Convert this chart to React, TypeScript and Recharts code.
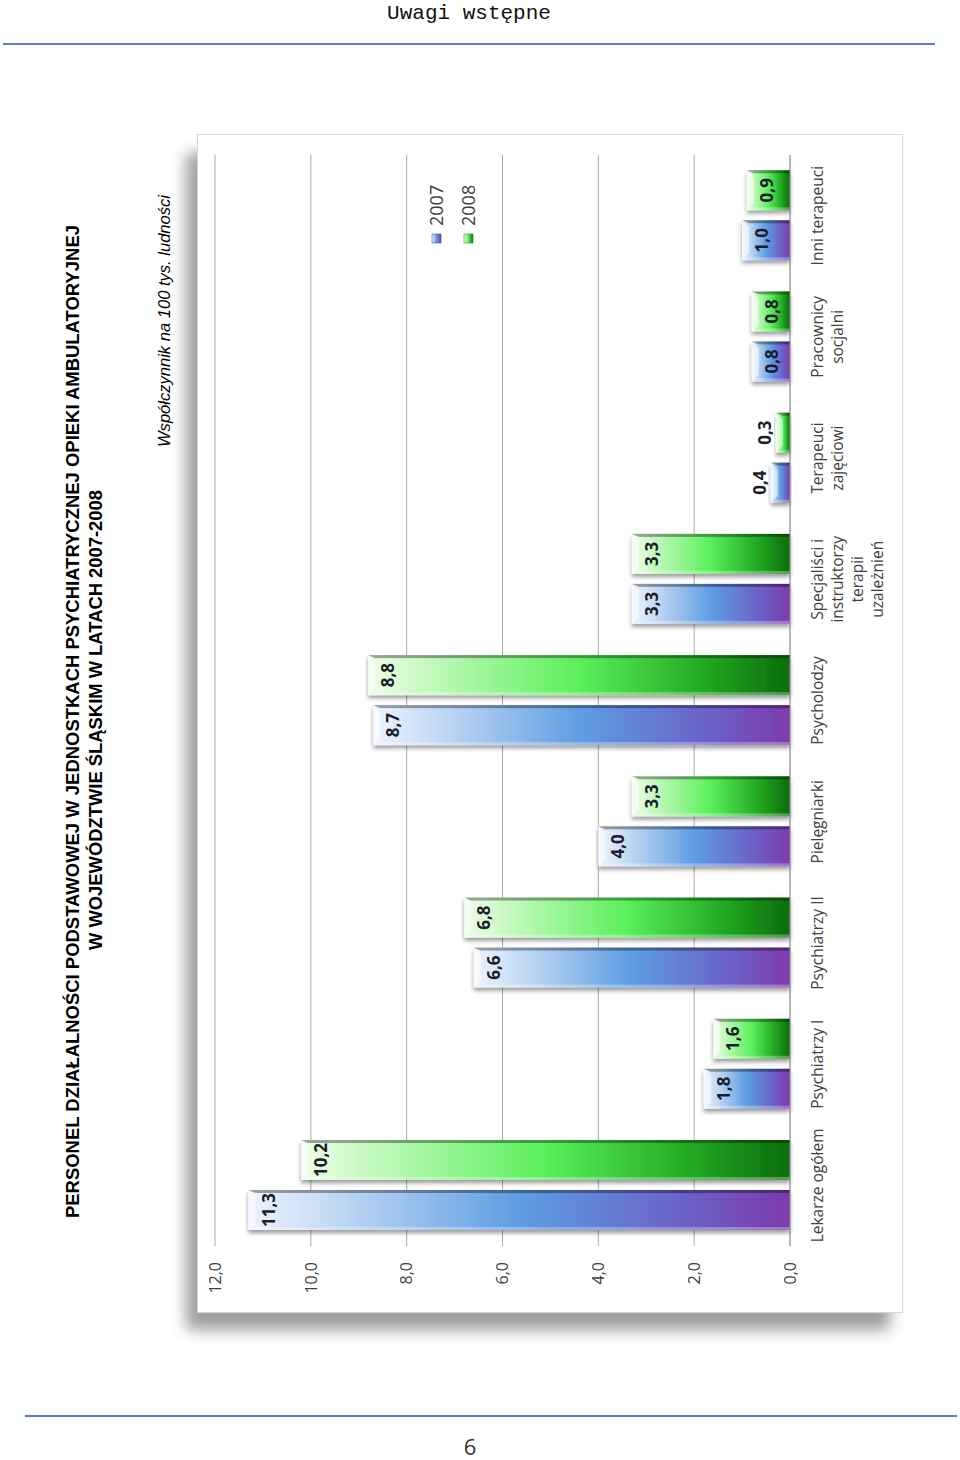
import React from 'react';
import { BarChart, Bar, XAxis, YAxis, CartesianGrid, LabelList } from 'recharts';

// categories with the line breaks used on the axis
const categoryLines: string[][] = [
  ['Lekarze ogółem'],
  ['Psychiatrzy I'],
  ['Psychiatrzy II'],
  ['Pielęgniarki'],
  ['Psycholodzy'],
  ['Specjaliści i', 'instruktorzy', 'terapii', 'uzależnień'],
  ['Terapeuci', 'zajęciowi'],
  ['Pracownicy', 'socjalni'],
  ['Inni terapeuci'],
];

const values2007 = [11.3, 1.8, 6.6, 4.0, 8.7, 3.3, 0.4, 0.8, 1.0];
const values2008 = [10.2, 1.6, 6.8, 3.3, 8.8, 3.3, 0.3, 0.8, 0.9];
const yTicks = [0, 2, 4, 6, 8, 10, 12];
const seriesNames = ['2007', '2008'];

const data = categoryLines.map((lines, i) => ({
  name: lines.join(' '),
  y2007: values2007[i],
  y2008: values2008[i],
}));

const fmt = (v: number) => v.toFixed(1).replace('.', ',');

const FONT = '"Open Sans", "Noto Sans", sans-serif';

function BevelBar(props: any) {
  const { x, y, width: w, height: h, grad } = props;
  if (!h || h <= 0) return null;
  const b = Math.min(7, h / 2);
  const s = 3;
  return (
    <g filter="url(#barShadow)">
      <rect x={x} y={y} width={w} height={h} fill={`url(#${grad})`} />
      <polygon
        points={`${x},${y} ${x + w},${y} ${x + w - b},${y + b} ${x + b},${y + b}`}
        fill="#ffffff"
        fillOpacity={0.55}
      />
      <polygon
        points={`${x},${y} ${x + s},${y + b} ${x + s},${y + h} ${x},${y + h}`}
        fill="#ffffff"
        fillOpacity={0.3}
      />
      <polygon
        points={`${x + w},${y} ${x + w - s},${y + b} ${x + w - s},${y + h} ${x + w},${y + h}`}
        fill="#000000"
        fillOpacity={0.35}
      />
    </g>
  );
}

function ValueLabel(props: any) {
  const { x, y, width, value } = props;
  const cx = x + width / 2;
  // short bars get the label above them
  const ty = value < 0.5 ? y - 5 : y + 26;
  return (
    <text x={cx} y={ty} textAnchor="middle" fontFamily={FONT} fontWeight={700} fontSize={17} fill="#1c1c2c">
      {fmt(value)}
    </text>
  );
}

function CategoryTick(props: any) {
  const { x, y, payload } = props;
  const idx = data.findIndex((d) => d.name === payload.value);
  const lines = categoryLines[idx] || [payload.value];
  return (
    <text x={x} y={y + 33} textAnchor="middle" fontFamily={FONT} fontSize={15.5} fill="#404040">
      {lines.map((l, i) => (
        <tspan key={i} x={x} dy={i === 0 ? 0 : 20}>
          {l}
        </tspan>
      ))}
    </text>
  );
}

export default function App() {
  return (
    <div style={{ position: 'absolute', left: 0, top: 0, width: 960, height: 1460, background: '#fff', overflow: 'hidden' }}>
      <svg width={960} height={1460} style={{ position: 'absolute', left: 0, top: 0 }}>
        <defs>
          <linearGradient id="g2007" x1="0" y1="0" x2="0" y2="1">
            <stop offset="0" stopColor="#eef4fd" />
            <stop offset="0.15" stopColor="#c4daf4" />
            <stop offset="0.5" stopColor="#5e9de2" />
            <stop offset="0.8" stopColor="#6a62c8" />
            <stop offset="1" stopColor="#7d3aac" />
          </linearGradient>
          <linearGradient id="g2008" x1="0" y1="0" x2="0" y2="1">
            <stop offset="0" stopColor="#eefde9" />
            <stop offset="0.15" stopColor="#c2f9bc" />
            <stop offset="0.5" stopColor="#5bef5b" />
            <stop offset="0.8" stopColor="#22a822" />
            <stop offset="1" stopColor="#0b6c0b" />
          </linearGradient>
          <filter id="barShadow" x="-30%" y="-10%" width="160%" height="120%">
            <feDropShadow dx={-3} dy={0} stdDeviation={2} floodColor="#000" floodOpacity={0.4} />
          </filter>
        </defs>
        <text x={469} y={19} textAnchor="middle" fontFamily='"Liberation Mono", monospace' fontSize={21} fill="#111">
          Uwagi wstępne
        </text>
        <line x1={3} x2={935} y1={44} y2={44} stroke="#5b7fc4" strokeWidth={2} />
        <line x1={25} x2={957} y1={1416} y2={1416} stroke="#5b7fc4" strokeWidth={2} />
        <text x={470} y={1455} textAnchor="middle" fontFamily={FONT} fontSize={22} fill="#333">
          6
        </text>
      </svg>

      {/* landscape page, turned a quarter left */}
      <div
        style={{
          position: 'absolute',
          left: 50,
          top: 1345,
          width: 1225,
          height: 870,
          transformOrigin: '0 0',
          transform: 'rotate(-90deg)',
        }}
      >
        <svg width={1225} height={148} style={{ position: 'absolute', left: 0, top: 0, overflow: 'visible' }}>
          <text x={127} y={29} textLength={993} lengthAdjust="spacingAndGlyphs" fontFamily='"Liberation Sans", Arial, sans-serif' fontWeight="bold" fontSize={18} fill="#000">
            PERSONEL DZIAŁALNOŚCI PODSTAWOWEJ W JEDNOSTKACH PSYCHIATRYCZNEJ OPIEKI AMBULATORYJNEJ
          </text>
          <text x={395} y={52} textLength={460} lengthAdjust="spacingAndGlyphs" fontFamily='"Liberation Sans", Arial, sans-serif' fontWeight="bold" fontSize={18} fill="#000">
            W WOJEWÓDZTWIE ŚLĄSKIM W LATACH 2007-2008
          </text>
          <text x={898} y={120} textLength={252} lengthAdjust="spacingAndGlyphs" fontFamily='"Liberation Sans", Arial, sans-serif' fontStyle="italic" fontSize={16} fill="#000">
            Współczynnik na 100 tys. ludności
          </text>
        </svg>

        <div
          style={{
            position: 'absolute',
            left: 33,
            top: 148,
            width: 1177,
            height: 704,
            background: '#fff',
            boxShadow: '0 0 0 1px #d4d4d4, -18px -12px 14px rgba(0,0,0,0.38)',
          }}
        >
          <BarChart
            width={1177}
            height={704}
            data={data}
            margin={{ top: 17, right: 20, bottom: 12, left: 16 }}
            barSize={40}
            barGap={10}
          >
            <CartesianGrid vertical={false} stroke="#a9a9a9" />
            <XAxis
              dataKey="name"
              height={100}
              interval={0}
              tickLine={false}
              tickSize={0}
              tickMargin={0}
              axisLine={{ stroke: '#9a9a9a' }}
              tick={<CategoryTick />}
            />
            <YAxis
              width={50}
              domain={[0, 12]}
              ticks={yTicks}
              axisLine={false}
              tickLine={false}
              tickSize={0}
              tickMargin={16}
              tickFormatter={fmt}
              tick={{ fontFamily: FONT, fontSize: 16, fill: '#404040' }}
            />
            <Bar dataKey="y2007" name={seriesNames[0]} isAnimationActive={false} shape={(p: any) => <BevelBar {...p} grad="g2007" />}>
              <LabelList dataKey="y2007" content={<ValueLabel />} />
            </Bar>
            <Bar dataKey="y2008" name={seriesNames[1]} isAnimationActive={false} shape={(p: any) => <BevelBar {...p} grad="g2008" />}>
              <LabelList dataKey="y2008" content={<ValueLabel />} />
            </Bar>
          </BarChart>

          {/* legend */}
          <svg width={130} height={80} style={{ position: 'absolute', left: 1062, top: 222 }}>
            {seriesNames.map((n, i) => (
              <g key={n} transform={`translate(0, ${i * 32})`}>
                <rect x={7} y={12} width={9} height={9} fill={`url(#g${n})`} stroke={i === 0 ? '#4a4aa0' : '#2a9a2a'} strokeWidth={0.6} />
                <text x={24} y={23} fontFamily={FONT} fontSize={18} fill="#404040">
                  {n}
                </text>
              </g>
            ))}
          </svg>
        </div>
      </div>
    </div>
  );
}
